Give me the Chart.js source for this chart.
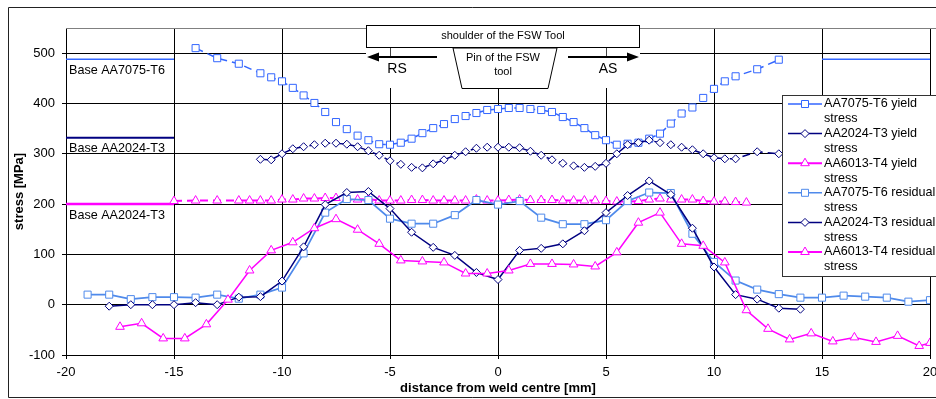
<!DOCTYPE html>
<html>
<head>
<meta charset="utf-8">
<script src="https://cdn.jsdelivr.net/npm/chart.js@4.4.1/dist/chart.umd.min.js"></script>
<style>
  html, body { margin: 0; padding: 0; background: #fff; }
</style>
</head>
<body>
<canvas id="chart" width="936" height="399"></canvas>
<script>
// distance from weld centre [mm] / stress [MPa]
const yield7075X = [-14, -13, -12, -11, -10.5, -10, -9.5, -9, -8.5, -8, -7.5, -7, -6.5, -6, -5.5, -5, -4.5, -4, -3.5, -3, -2.5, -2, -1.5, -1, -0.5, 0, 0.5, 1, 1.5, 2, 2.5, 3, 3.5, 4, 4.5, 5, 5.5, 6, 6.5, 7, 7.5, 8, 8.5, 9, 9.5, 10, 10.5, 11, 12, 13];
const yield7075 = [510, 490, 479, 460, 452, 444, 431, 416, 401, 383, 363, 349, 336, 327, 319, 318, 322, 330, 341, 351, 359, 369, 375, 381, 387, 389, 391, 391, 389, 387, 383, 373, 363, 351, 337, 327, 318, 320, 322, 330, 340, 360, 380, 392, 411, 429, 444, 454, 468, 487];

const yield2024X = [-11, -10.5, -10, -9.5, -9, -8.5, -8, -7.5, -7, -6.5, -6, -5.5, -5, -4.5, -4, -3.5, -3, -2.5, -2, -1.5, -1, -0.5, 0, 0.5, 1, 1.5, 2, 2.5, 3, 3.5, 4, 4.5, 5, 5.5, 6, 6.5, 7, 7.5, 8, 8.5, 9, 9.5, 10, 10.5, 11, 12, 13];
const yield2024 = [289, 288, 300, 310, 314, 318, 321, 321, 319, 314, 306, 297, 286, 279, 273, 272, 280, 288, 297, 304, 311, 313, 313, 313, 312, 305, 297, 288, 281, 276, 273, 275, 281, 300, 318, 322, 327, 322, 318, 313, 308, 300, 292, 290, 290, 304, 300];

const yield6013X = [-15, -14, -13, -12, -11.5, -11, -10.5, -10, -9.5, -9, -8.5, -8, -7.5, -7, -6.5, -6, -5.5, -5, -4.5, -4, -3.5, -3, -2.5, -2, -1.5, -1, -0.5, 0, 0.5, 1, 1.5, 2, 2.5, 3, 3.5, 4, 4.5, 5, 5.5, 6, 6.5, 7, 7.5, 8, 8.5, 9, 9.5, 10, 10.5, 11, 11.5];
const yield6013 = [206, 207, 207, 207, 207, 207, 207, 209, 209, 211, 211, 212, 212, 212, 209, 210, 207, 207, 207, 208, 208, 207, 207, 207, 207, 209, 207, 207, 208, 209, 208, 208, 208, 207, 207, 207, 207, 206, 205, 205, 206, 209, 211, 209, 209, 209, 206, 205, 205, 204, 203];

const resid7075X = [-19, -18, -17, -16, -15, -14, -13, -12, -11, -10, -9, -8, -7, -6, -5, -4, -3, -2, -1, 0, 1, 2, 3, 4, 5, 6, 7, 8, 9, 10, 11, 12, 13, 14, 15, 16, 17, 18, 19, 20];
const resid7075 = [20, 20, 11, 15, 15, 14, 20, 12, 20, 34, 102, 183, 210, 208, 171, 161, 161, 178, 208, 199, 206, 173, 160, 160, 168, 206, 223, 222, 141, 85, 48, 30, 21, 14, 14, 18, 16, 14, 6, 9];

const resid2024X = [-18, -17, -16, -15, -14, -13, -12, -11, -10, -9, -8, -7, -6, -5, -4, -3, -2, -1, 0, 1, 2, 3, 4, 5, 6, 7, 8, 9, 10, 11, 12, 13, 14];
const resid2024 = [-3, 0, 0, 0, 4, 0, 15, 16, 47, 115, 199, 223, 225, 191, 144, 114, 98, 64, 50, 108, 112, 121, 147, 183, 217, 246, 219, 152, 75, 20, 11, -7, -9];

const resid6013X = [-17.5, -16.5, -15.5, -14.5, -13.5, -12.5, -11.5, -10.5, -9.5, -8.5, -7.5, -6.5, -5.5, -4.5, -3.5, -2.5, -1.5, -0.5, 0.5, 1.5, 2.5, 3.5, 4.5, 5.5, 6.5, 7.5, 8.5, 9.5, 10.5, 11.5, 12.5, 13.5, 14.5, 15.5, 16.5, 17.5, 18.5, 19.5, 20];
const resid6013 = [-44, -37, -67, -67, -39, 10, 68, 108, 124, 152, 170, 149, 121, 88, 86, 84, 62, 62, 68, 81, 81, 80, 76, 104, 163, 183, 121, 117, 84, -11, -48, -69, -57, -73, -65, -74, -62, -82, -76];

// base material yield stress, drawn outside the weld zone
const baseLeftX = [-20, -15];
const baseRightX = [15, 20];
const base7075 = 488;
const base2024 = 332;
const base6013 = 200;
const baseLabels = ['Base AA7075-T6', 'Base AA2024-T3', 'Base AA2024-T3'];

const legendLabels = [
  ['AA7075-T6 yield', 'stress'],
  ['AA2024-T3 yield', 'stress'],
  ['AA6013-T4 yield', 'stress'],
  ['AA7075-T6 residual', 'stress'],
  ['AA2024-T3 residual', 'stress'],
  ['AA6013-T4 residual', 'stress']
];

const BLUE = '#3366ff';
const LBLUE = '#4f8aeb';
const NAVY = '#000080';
const MAG = '#ff00ff';
const FONT = 'Arial, "Liberation Sans", sans-serif';

const pts = (xs, ys) => xs.map((x, i) => ({ x: x, y: ys[i] }));
const flat = (xs, v) => xs.map(x => ({ x: x, y: v }));

function series(data, color, style, radius, width, dash) {
  return {
    data: data,
    showLine: true,
    borderColor: color,
    borderWidth: width,
    borderDash: dash || [],
    pointStyle: style,
    pointRadius: radius,
    pointBorderWidth: 1,
    pointBorderColor: color,
    pointBackgroundColor: '#ffffff',
    pointHoverRadius: radius
  };
}
function baseLine(data, color, width) {
  return { data: data, showLine: true, borderColor: color, borderWidth: width, pointRadius: 0 };
}

function drawMarker(ctx, style, x, y, color) {
  ctx.save();
  ctx.fillStyle = '#fff';
  ctx.strokeStyle = color;
  ctx.lineWidth = 1;
  ctx.beginPath();
  if (style === 'rect') {
    ctx.rect(x - 3.5, y - 3.5, 7, 7);
  } else if (style === 'rectRot') {
    ctx.moveTo(x, y - 4); ctx.lineTo(x + 4, y); ctx.lineTo(x, y + 4); ctx.lineTo(x - 4, y); ctx.closePath();
  } else {
    ctx.moveTo(x, y - 5); ctx.lineTo(x + 4.3, y + 2.5); ctx.lineTo(x - 4.3, y + 2.5); ctx.closePath();
  }
  ctx.fill();
  ctx.stroke();
  ctx.restore();
}

const extras = {
  id: 'extras',
  afterDraw(chart) {
    const ctx = chart.ctx;
    const xs = chart.scales.x, ys = chart.scales.y;
    const a = chart.chartArea;
    ctx.save();

    // plot top border and outer frame
    ctx.strokeStyle = '#808080';
    ctx.lineWidth = 1;
    ctx.beginPath();
    ctx.moveTo(a.left, a.top + 0.5); ctx.lineTo(936, a.top + 0.5);
    ctx.stroke();
    ctx.strokeStyle = '#222';
    ctx.beginPath();
    ctx.moveTo(945, 7.5); ctx.lineTo(8.5, 7.5); ctx.lineTo(8.5, 397.5); ctx.lineTo(945, 397.5);
    ctx.stroke();

    // base labels
    ctx.fillStyle = '#000';
    ctx.font = '12.6px ' + FONT;
    ctx.textAlign = 'left';
    ctx.textBaseline = 'middle';
    [base7075, base2024, base6013].forEach((v, i) => {
      ctx.fillText(baseLabels[i], a.left + 3, ys.getPixelForValue(v) + 11);
    });

    // FSW tool sketch
    ctx.fillStyle = '#fff';
    ctx.fillRect(366, 48, 274, 40);
    ctx.strokeStyle = '#000';
    ctx.lineWidth = 1;
    ctx.fillRect(366, 25, 274, 23);
    ctx.strokeRect(366.5, 25.5, 273, 22);
    ctx.fillStyle = '#000';
    ctx.font = '11px ' + FONT;
    ctx.textAlign = 'center';
    ctx.fillText('shoulder of the FSW Tool', 503, 36);

    ctx.beginPath();
    [-5, 5].forEach(v => {
      const px = Math.round(xs.getPixelForValue(v)) + 0.5;
      ctx.moveTo(px, 48); ctx.lineTo(px, 56);
    });
    ctx.strokeStyle = '#444';
    ctx.stroke();

    ctx.fillStyle = '#fff';
    ctx.strokeStyle = '#000';
    ctx.beginPath();
    ctx.moveTo(453, 48); ctx.lineTo(557, 48); ctx.lineTo(548, 88.5); ctx.lineTo(462, 88.5); ctx.closePath();
    ctx.fill();
    ctx.stroke();
    ctx.fillStyle = '#000';
    ctx.fillText('Pin of the FSW', 503, 58);
    ctx.fillText('tool', 503, 72);

    ctx.lineWidth = 2;
    ctx.beginPath();
    ctx.moveTo(437, 57); ctx.lineTo(376, 57);
    ctx.moveTo(568, 57); ctx.lineTo(630, 57);
    ctx.stroke();
    ctx.beginPath();
    ctx.moveTo(367, 57); ctx.lineTo(379, 52.5); ctx.lineTo(379, 61.5); ctx.closePath();
    ctx.moveTo(639, 57); ctx.lineTo(627, 52.5); ctx.lineTo(627, 61.5); ctx.closePath();
    ctx.fill();
    ctx.font = '14px ' + FONT;
    ctx.fillText('RS', 397, 69);
    ctx.fillText('AS', 608, 69);

    // legend
    const lx = 782, ly = 95;
    ctx.fillStyle = '#fff';
    ctx.fillRect(lx, ly, 170, 182);
    ctx.lineWidth = 1;
    ctx.strokeStyle = '#333';
    ctx.strokeRect(lx + 0.5, ly + 0.5, 170, 181);
    const cols = [BLUE, NAVY, MAG, LBLUE, NAVY, MAG];
    const styles = ['rect', 'rectRot', 'triangle', 'rect', 'rectRot', 'triangle'];
    ctx.font = '12.6px ' + FONT;
    ctx.textAlign = 'left';
    legendLabels.forEach((lab, i) => {
      const y = 104 + i * 29.6;
      ctx.strokeStyle = cols[i];
      ctx.lineWidth = i === 2 || i === 5 ? 2 : 1.5;
      ctx.beginPath();
      ctx.moveTo(788, y); ctx.lineTo(822, y);
      ctx.stroke();
      drawMarker(ctx, styles[i], 805, y, cols[i]);
      ctx.fillStyle = '#000';
      ctx.fillText(lab[0], 824, y);
      ctx.fillText(lab[1], 824, y + 15);
    });
    ctx.restore();
  }
};

Chart.defaults.font.family = FONT;
Chart.defaults.font.size = 13;
Chart.defaults.color = '#000';

new Chart(document.getElementById('chart'), {
  type: 'scatter',
  data: {
    datasets: [
      series(pts(resid6013X, resid6013), MAG, 'triangle', 5, 1.5),
      series(pts(resid2024X, resid2024), NAVY, 'rectRot', 4, 1.5),
      series(pts(resid7075X, resid7075), LBLUE, 'rect', 5, 1.75),
      series(pts(yield6013X, yield6013), MAG, 'triangle', 5, 2, [8, 5]),
      series(pts(yield2024X, yield2024), NAVY, 'rectRot', 4, 1.5, [8, 5]),
      series(pts(yield7075X, yield7075), BLUE, 'rect', 5, 1.5, [8, 5]),
      baseLine(flat(baseLeftX, base7075), BLUE, 1.5),
      baseLine(flat(baseRightX, base7075), BLUE, 1.5),
      baseLine(flat(baseLeftX, base2024), NAVY, 2),
      baseLine(flat(baseRightX, base2024), NAVY, 2),
      baseLine(flat(baseLeftX, base6013), MAG, 2.5),
      baseLine(flat(baseRightX, base6013), MAG, 2.5)
    ]
  },
  options: {
    responsive: false,
    animation: false,
    events: [],
    layout: { padding: { left: 0, top: 28, right: 2, bottom: 0 } },
    plugins: { legend: { display: false }, tooltip: { enabled: false } },
    scales: {
      x: {
        type: 'linear',
        min: -20, max: 20,
        ticks: { stepSize: 5, padding: 6, maxRotation: 0 },
        grid: { color: '#000', lineWidth: 1, tickLength: 4 },
        border: { color: '#000' },
        title: { display: true, text: 'distance from weld centre [mm]', font: { weight: 'bold', size: 13 }, padding: { bottom: 3 } },
        afterFit(scale) { scale.height = 44; scale.paddingLeft = 0; scale.paddingRight = 0; }
      },
      y: {
        min: -100, max: 550,
        ticks: { stepSize: 100, padding: 7 },
        afterBuildTicks(scale) { scale.ticks = scale.ticks.filter(t => t.value % 100 === 0); },
        grid: { color: '#000', lineWidth: 1, tickLength: 4 },
        border: { color: '#000' },
        title: { display: true, text: 'stress [MPa]', font: { weight: 'bold', size: 13 }, padding: { top: 12 } },
        afterFit(scale) { scale.width = 66; scale.paddingTop = 0; scale.paddingBottom = 0; }
      }
    }
  },
  plugins: [extras]
});
</script>
</body>
</html>
